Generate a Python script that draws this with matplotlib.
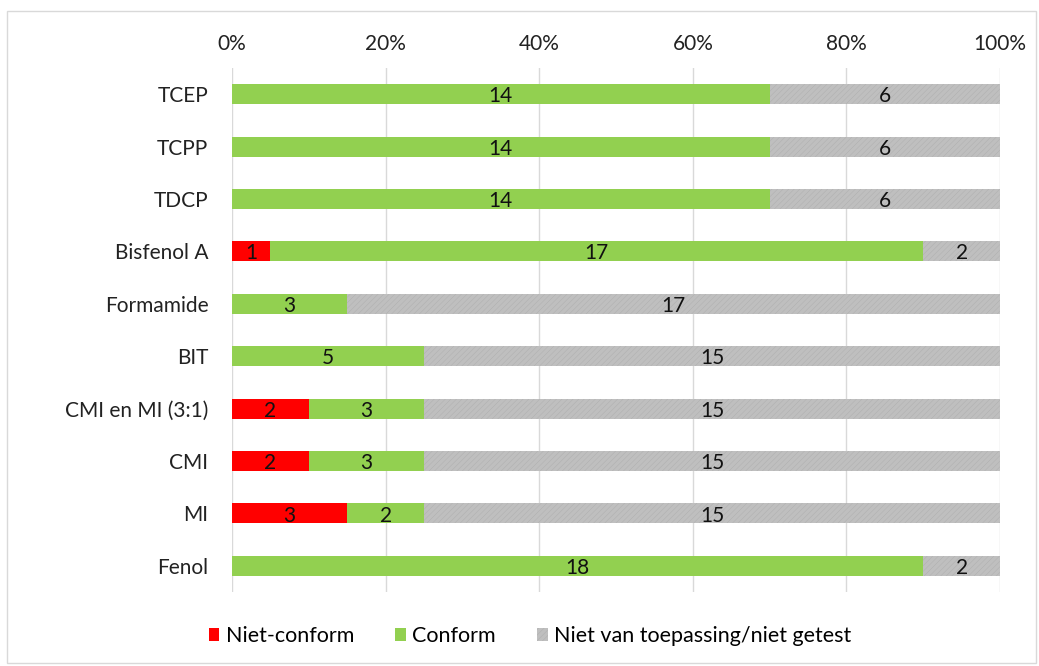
import numpy as np
import matplotlib.pyplot as plt

plt.rcParams['font.family'] = ['Lato', 'DejaVu Sans']
plt.rcParams['hatch.linewidth'] = 0.3
plt.rcParams['hatch.color'] = '#ADADAD'

categories = ['TCEP', 'TCPP', 'TDCP', 'Bisfenol A', 'Formamide', 'BIT',
              'CMI en MI (3:1)', 'CMI', 'MI', 'Fenol']
niet_conform = [0, 0, 0, 1, 0, 0, 2, 2, 3, 0]
conform = [14, 14, 14, 17, 3, 5, 3, 3, 2, 18]
niet_getest = [6, 6, 6, 2, 17, 15, 15, 15, 15, 2]
series_names = ['Niet-conform', 'Conform', 'Niet van toepassing/niet getest']
colors = ['#FF0000', '#92D050', '#BFBFBF']

data = np.array([niet_conform, conform, niet_getest], dtype=float)
totals = data.sum(axis=0)
shares = data / totals * 100

fig = plt.figure(figsize=(10.39, 6.66), dpi=100)
ax = fig.add_axes([0.2233, 0.111, 0.7392, 0.787])

y = np.arange(len(categories))
left = np.zeros(len(categories))
for i, (name, col) in enumerate(zip(series_names, colors)):
    hatch = '//////' if i == 2 else None
    ax.barh(y, shares[i], left=left, height=0.38, color=col, label=name,
            linewidth=0, hatch=hatch, zorder=3)
    for j, v in enumerate(data[i]):
        if v > 0:
            ax.text(left[j] + shares[i][j] / 2, y[j] + 0.04, f'{int(v)}',
                    ha='center', va='center', fontsize=15, color='#111111',
                    zorder=4)
    left += shares[i]

ax.set_xlim(0, 100)
ax.set_ylim(len(categories) - 0.5, -0.5)
ax.set_yticks(y)
ax.set_yticklabels(categories, fontsize=15, color='#222222')
ax.set_xticks(np.arange(0, 101, 20))
ax.set_xticklabels([f'{t}%' for t in range(0, 101, 20)], fontsize=15, color='#222222')
ax.xaxis.tick_top()
ax.tick_params(axis='x', length=0, pad=10)
ax.tick_params(axis='y', length=0, pad=17)
ax.grid(axis='x', color='#D9D9D9', linewidth=1, zorder=0)
for s in ax.spines.values():
    s.set_visible(False)

fig.legend(loc='center', bbox_to_anchor=(0.51, 0.045), ncol=3, frameon=False,
           fontsize=15.5, handlelength=0.5, handleheight=0.5, handletextpad=0.3,
           columnspacing=1.9)

border = plt.Rectangle((0.007, 0.005), 0.99, 0.978, transform=fig.transFigure,
                       fill=False, edgecolor='#D9D9D9', linewidth=1)
fig.patches.append(border)

fig.savefig('out.png', dpi=100)
